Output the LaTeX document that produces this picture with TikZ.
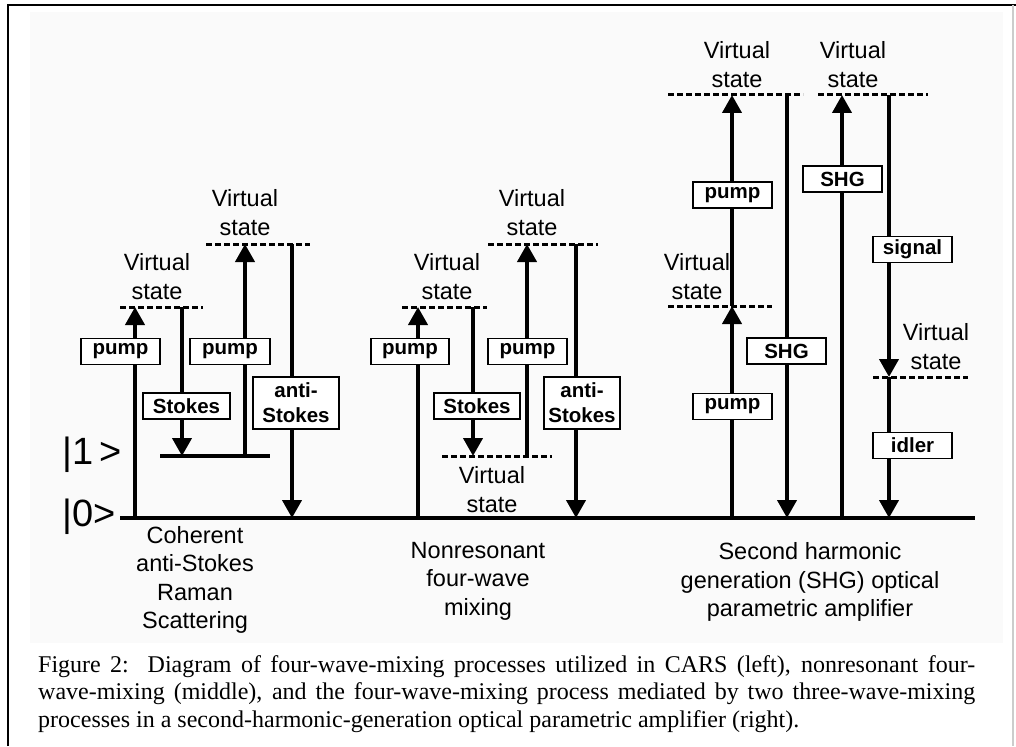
\documentclass[tikz,border=0pt]{standalone}
\usepackage{fontspec}
\setmainfont{Liberation Sans}
\newfontfamily\capserif{Liberation Serif}
\usetikzlibrary{arrows.meta}
\begin{document}
\begin{tikzpicture}[x=1pt,y=-1pt,
  lvl/.style={line width=4pt},
  vlvl/.style={line width=3pt, dash pattern=on 6pt off 3pt},
  tup/.style={line width=4pt, -{Triangle[width=19pt,length=18pt]}},
  lbl/.style={draw, line width=1.2pt, fill=white, inner sep=0pt, minimum height=26pt, minimum width=79pt, font=\fontsize{20.5}{22}\selectfont\bfseries},
  vs/.style={align=center, inner sep=0pt, font=\fontsize{23.5}{29}\selectfont},
  ket/.style={inner sep=0pt, anchor=west, font=\fontsize{38}{40}\selectfont},
  ttl/.style={align=center, inner sep=0pt, font=\fontsize{23.5}{28.5}\selectfont}
]
\useasboundingbox (0,0) rectangle (1016,746);
% frame and panel
\fill[black!2] (30,12) rectangle (1003,643);
\draw[line width=2pt] (8,746) -- (8,5) -- (1016,5);
\draw[line width=1.5pt, black!20] (1013,5) -- (1013,746);

% ---------- levels ----------
\coordinate (g0L) at (120,518); \coordinate (g0R) at (975,518);
\draw[lvl] (g0L) -- (g0R);
\coordinate (l1L) at (160,456); \coordinate (l1R) at (270,456);
\draw[lvl] (l1L) -- (l1R);
\node[ket] (k0) at (62,517) {|0>};
\node[ket] (k1) at (62,455) {|1\,>};

% CARS virtual levels
\coordinate (cv1L) at (120,307); \coordinate (cv1R) at (203,307);
\coordinate (cv2L) at (206,244); \coordinate (cv2R) at (310,244);
\draw[vlvl] (cv1L) -- (cv1R);
\draw[vlvl] (cv2L) -- (cv2R);
% middle virtual levels
\coordinate (mv1L) at (402,307); \coordinate (mv1R) at (487,307);
\coordinate (mv2L) at (488,244); \coordinate (mv2R) at (598,244);
\coordinate (mv0L) at (442,456); \coordinate (mv0R) at (552,456);
\draw[vlvl] (mv1L) -- (mv1R);
\draw[vlvl] (mv2L) -- (mv2R);
\draw[vlvl] (mv0L) -- (mv0R);
% right virtual levels
\coordinate (rv1L) at (668,95); \coordinate (rv1R) at (803,95);
\coordinate (rv2L) at (818,95); \coordinate (rv2R) at (928,95);
\coordinate (rvmL) at (668,306); \coordinate (rvmR) at (772,306);
\coordinate (rvlL) at (873,377); \coordinate (rvlR) at (968,377);
\draw[vlvl] (rv1L) -- (rv1R);
\draw[vlvl] (rv2L) -- (rv2R);
\draw[vlvl] (rvmL) -- (rvmR);
\draw[vlvl] (rvlL) -- (rvlR);

% ---------- transitions: CARS ----------
\coordinate (ca1a) at (135,518); \coordinate (ca1b) at (135,307);
\coordinate (ca2a) at (182,307); \coordinate (ca2b) at (182,456);
\coordinate (ca3a) at (245,456); \coordinate (ca3b) at (245,244);
\coordinate (ca4a) at (292,244); \coordinate (ca4b) at (292,518);
\draw[tup] (ca1a) -- (ca1b);
\draw[tup] (ca2a) -- (ca2b);
\draw[tup] (ca3a) -- (ca3b);
\draw[tup] (ca4a) -- (ca4b);
% ---------- transitions: middle ----------
\coordinate (ma1a) at (418,518); \coordinate (ma1b) at (418,307);
\coordinate (ma2a) at (473,307); \coordinate (ma2b) at (473,456);
\coordinate (ma3a) at (527,456); \coordinate (ma3b) at (527,244);
\coordinate (ma4a) at (576,244); \coordinate (ma4b) at (576,518);
\draw[tup] (ma1a) -- (ma1b);
\draw[tup] (ma2a) -- (ma2b);
\draw[tup] (ma3a) -- (ma3b);
\draw[tup] (ma4a) -- (ma4b);
% ---------- transitions: right ----------
\coordinate (ra1a) at (732,518); \coordinate (ra1b) at (732,306);
\coordinate (ra2a) at (732,306); \coordinate (ra2b) at (732,95);
\coordinate (ra3a) at (787,95);  \coordinate (ra3b) at (787,518);
\coordinate (ra4a) at (842,518); \coordinate (ra4b) at (842,95);
\coordinate (ra5a) at (889,95);  \coordinate (ra5b) at (889,377);
\coordinate (ra6a) at (889,377); \coordinate (ra6b) at (889,518);
\draw[tup] (ra1a) -- (ra1b);
\draw[tup] (ra2a) -- (ra2b);
\draw[tup] (ra3a) -- (ra3b);
\draw[tup] (ra4a) -- (ra4b);
\draw[tup] (ra5a) -- (ra5b);
\draw[tup] (ra6a) -- (ra6b);

% ---------- boxes ----------
\node[lbl] (bc1) at (120.5,351.5) {pump};
\node[lbl, minimum width=87pt] (bc2) at (186.5,406) {Stokes};
\node[lbl, minimum width=80pt] (bc3) at (230,351.5) {pump};
\node[lbl, minimum width=86pt, minimum height=52pt, align=center, font=\fontsize{20.5}{25}\selectfont\bfseries] (bc4) at (296,403) {anti-\\Stokes};
\node[lbl, minimum width=78pt] (bm1) at (410,351.5) {pump};
\node[lbl, minimum width=86pt] (bm2) at (477,406) {Stokes};
\node[lbl] (bm3) at (527.5,351.5) {pump};
\node[lbl, minimum width=76pt, minimum height=52pt, align=center, font=\fontsize{20.5}{25}\selectfont\bfseries] (bm4) at (582,403) {anti-\\Stokes};
\node[lbl] (br1) at (732.5,406.5) {pump};
\node[lbl] (br2) at (732.5,195) {pump};
\node[lbl] (br3) at (786.5,351) {SHG};
\node[lbl] (br4) at (842.5,179) {SHG};
\node[lbl] (br5) at (912.5,249.5) {signal};
\node[lbl] (br6) at (912.5,445.5) {idler};

% ---------- virtual state labels ----------
\node[vs] (vc1) at (157,277) {Virtual\\state};
\node[vs] (vc2) at (245,213) {Virtual\\state};
\node[vs] (vm1) at (447,277) {Virtual\\state};
\node[vs] (vm2) at (532,213) {Virtual\\state};
\node[vs] (vm0) at (492,490) {Virtual\\state};
\node[vs] (vr1) at (737,65) {Virtual\\state};
\node[vs] (vr2) at (853,65) {Virtual\\state};
\node[vs] (vrm) at (697,277) {Virtual\\state};
\node[vs] (vrl) at (936,347) {Virtual\\state};

% ---------- titles ----------
\node[ttl] (tc) at (195,580) {Coherent\\anti-Stokes\\Raman\\Scattering};
\node[ttl] (tm) at (478,581) {Nonresonant\\four-wave\\mixing};
\node[ttl] (tr) at (810,582) {Second harmonic\\generation (SHG) optical\\parametric amplifier};

% ---------- caption ----------
\node[anchor=north west, inner sep=0pt, text width=937pt, align=justify,
      font=\capserif\fontsize{24}{27.5}\selectfont] (cap) at (38,655)
{Figure 2:\ \ Diagram of four-wave-mixing processes utilized in CARS (left), nonresonant four-\linebreak
wave-mixing (middle), and the four-wave-mixing process mediated by two three-wave-mixing\linebreak
processes in a second-harmonic-generation optical parametric amplifier (right).};
\end{tikzpicture}
\end{document}
